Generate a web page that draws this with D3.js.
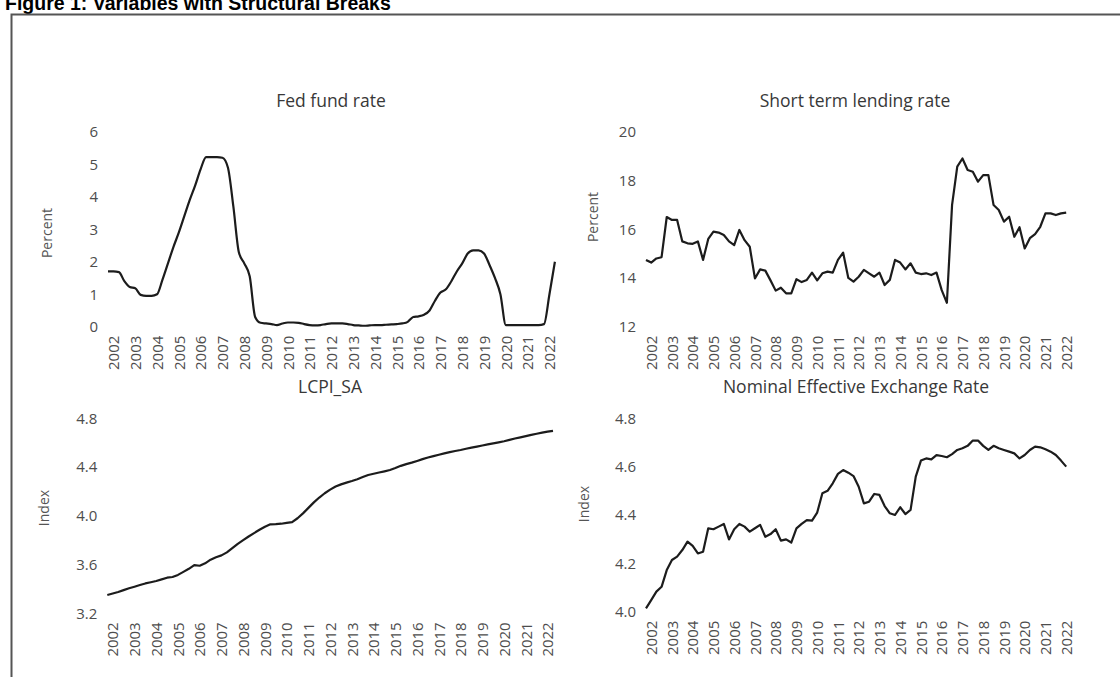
<!DOCTYPE html>
<html>
<head>
<meta charset="utf-8">
<script src="https://cdn.jsdelivr.net/npm/d3@7"></script>
<style>
  html, body { margin: 0; padding: 0; background: #fff; }
  svg { display: block; }
  .tick text { fill: #4d4d4d; font-family: "Open Sans", "Liberation Sans", sans-serif; }
  .ptitle { fill: #383838; font-family: "Open Sans", "Liberation Sans", sans-serif; }
  .atitle { fill: #555; font-family: "Open Sans", "Liberation Sans", sans-serif; }
</style>
</head>
<body>
<svg id="fig" width="1120" height="677"></svg>
<script>
// Quarterly observations, first quarter = 2002Q1
const startYear = 2002;

// Fed fund rate, percent (2002Q1 - 2022Q3)
const fedFundRate = [
  1.70, 1.70, 1.68, 1.40,
  1.22, 1.18, 0.98, 0.95,
  0.95, 1.00, 1.45, 1.95,
  2.45, 2.90, 3.40, 3.90,
  4.35, 4.85, 5.22, 5.22,
  5.22, 5.20, 4.90, 3.70,
  2.30, 1.95, 1.55, 0.30,
  0.12, 0.10, 0.08, 0.05,
  0.10, 0.13, 0.13, 0.12,
  0.08, 0.05, 0.04, 0.05,
  0.08, 0.10, 0.10, 0.10,
  0.08, 0.05, 0.04, 0.03,
  0.04, 0.05, 0.05, 0.06,
  0.07, 0.08, 0.10, 0.15,
  0.30, 0.32, 0.37, 0.50,
  0.80, 1.05, 1.15, 1.40,
  1.70, 1.95, 2.25, 2.35,
  2.35, 2.25, 1.90, 1.50,
  1.00, 0.05, 0.05, 0.05,
  0.05, 0.05, 0.05, 0.05,
  0.08, 1.00, 2.00
];

// Short term lending rate, percent (2002Q1 - 2022Q2)
const lendingRate = [
  14.74, 14.63, 14.80, 14.85,
  16.50, 16.38, 16.38, 15.50,
  15.42, 15.40, 15.50, 14.74,
  15.60, 15.90, 15.86, 15.76,
  15.50, 15.35, 15.97, 15.55,
  15.28, 13.98, 14.35, 14.30,
  13.90, 13.48, 13.60, 13.37,
  13.37, 13.95, 13.83, 13.92,
  14.22, 13.90, 14.19, 14.26,
  14.22, 14.74, 15.04, 14.00,
  13.85, 14.05, 14.33, 14.19,
  14.05, 14.22, 13.71, 13.92,
  14.74, 14.63, 14.35, 14.60,
  14.22, 14.16, 14.19, 14.12,
  14.22, 13.50, 12.98, 17.00,
  18.57, 18.90, 18.43, 18.36,
  17.95, 18.22, 18.22, 16.99,
  16.79, 16.31, 16.51, 15.69,
  16.08, 15.21, 15.63, 15.80,
  16.10, 16.65, 16.65, 16.58,
  16.65, 16.68
];

// LCPI_SA, index (2002Q1 - 2022Q3)
const lcpiSA = [
  3.350, 3.362, 3.375, 3.390,
  3.405, 3.418, 3.432, 3.445,
  3.455, 3.465, 3.478, 3.492,
  3.498, 3.515, 3.540, 3.565,
  3.595, 3.590, 3.610, 3.640,
  3.660, 3.675, 3.700, 3.735,
  3.770, 3.800, 3.830, 3.858,
  3.885, 3.910, 3.930, 3.932,
  3.935, 3.942, 3.948, 3.980,
  4.020, 4.065, 4.110, 4.150,
  4.185, 4.215, 4.240, 4.258,
  4.272, 4.285, 4.300, 4.318,
  4.335, 4.345, 4.355, 4.365,
  4.376, 4.392, 4.410, 4.424,
  4.436, 4.450, 4.465, 4.478,
  4.490, 4.501, 4.512, 4.522,
  4.532, 4.540, 4.550, 4.559,
  4.568, 4.577, 4.586, 4.594,
  4.603, 4.612, 4.623, 4.634,
  4.644, 4.654, 4.664, 4.673,
  4.682, 4.690, 4.697
];

// Nominal effective exchange rate, index (2002Q1 - 2022Q2)
const neer = [
  4.014, 4.048, 4.083, 4.103,
  4.172, 4.214, 4.228, 4.255,
  4.290, 4.272, 4.241, 4.248,
  4.345, 4.341, 4.352, 4.363,
  4.299, 4.341, 4.363, 4.352,
  4.331, 4.345, 4.359, 4.310,
  4.321, 4.341, 4.294, 4.299,
  4.286, 4.345, 4.363, 4.379,
  4.377, 4.410, 4.490, 4.500,
  4.531, 4.570, 4.586, 4.575,
  4.561, 4.517, 4.448, 4.455,
  4.487, 4.483, 4.437, 4.407,
  4.400, 4.432, 4.404, 4.421,
  4.559, 4.625, 4.634, 4.630,
  4.648, 4.644, 4.639, 4.652,
  4.669, 4.676, 4.686, 4.708,
  4.708, 4.686, 4.669, 4.686,
  4.676, 4.669, 4.662, 4.655,
  4.634, 4.648, 4.669, 4.683,
  4.680, 4.672, 4.662, 4.648,
  4.625, 4.600
];

// Axis tick values
const yearLabels = ["2002","2003","2004","2005","2006","2007","2008","2009","2010","2011",
                    "2012","2013","2014","2015","2016","2017","2018","2019","2020","2021","2022"];
const fedTicks = [0, 1, 2, 3, 4, 5, 6];
const lendingTicks = [12, 14, 16, 18, 20];
const lcpiTicks = [3.2, 3.6, 4.0, 4.4, 4.8];
const neerTicks = [4.0, 4.2, 4.4, 4.6, 4.8];

// Panel layout
const panels = [
  { title: "Fed fund rate", unit: "Percent", values: fedFundRate, ticks: fedTicks, fmt: d3.format("d"),
    curve: d3.curveMonotoneX,
    xr: [108, 554.9], yd: [0, 6], yr: [326.7, 131.7], titleX: 331, titleY: 107, unitX: 47, unitY: 233 },
  { title: "Short term lending rate", unit: "Percent", values: lendingRate, ticks: lendingTicks, fmt: d3.format("d"),
    curve: d3.curveLinear,
    xr: [646, 1066.2], yd: [12, 20], yr: [326.7, 131.7], titleX: 855, titleY: 107, unitX: 593, unitY: 217 },
  { title: "LCPI_SA", unit: "Index", values: lcpiSA, ticks: lcpiTicks, fmt: d3.format(".1f"),
    curve: d3.curveLinear,
    xr: [107.3, 553], yd: [3.2, 4.8], yr: [613.3, 418.3], titleX: 330, titleY: 393, unitX: 44, unitY: 508 },
  { title: "Nominal Effective Exchange Rate", unit: "Index", values: neer, ticks: neerTicks, fmt: d3.format(".1f"),
    curve: d3.curveLinear,
    xr: [646, 1066.2], yd: [4.0, 4.8], yr: [611.7, 418.3], titleX: 856, titleY: 393, unitX: 584, unitY: 504 }
];

const svg = d3.select("#fig");

// Figure heading and frame
svg.append("text")
  .attr("x", 5).attr("y", 10)
  .attr("font-family", "Liberation Sans, Arial, sans-serif")
  .attr("font-weight", "bold").attr("font-size", 19.5)
  .attr("fill", "#000")
  .text("Figure 1: Variables with Structural Breaks");

svg.append("path")
  .attr("d", "M11.5,677 L11.5,14.5 L1120,14.5")
  .attr("fill", "none").attr("stroke", "#555").attr("stroke-width", 2);

panels.forEach(p => {
  const n = p.values.length;
  const lastT = startYear + (n - 1) / 4;
  const x = d3.scaleLinear().domain([startYear, lastT]).range(p.xr);
  const y = d3.scaleLinear().domain(p.yd).range(p.yr);
  const g = svg.append("g");

  // Y axis labels
  g.append("g")
    .attr("transform", `translate(${p.xr[0]},0)`)
    .call(d3.axisLeft(y).tickValues(p.ticks).tickFormat(p.fmt).tickSize(0).tickPadding(10))
    .call(a => a.select(".domain").remove())
    .selectAll("text").attr("font-size", 15);

  // X axis year labels, rotated
  const yearTicks = yearLabels.map(s => +s + 0.25);
  g.append("g")
    .attr("transform", `translate(0,${p.yr[0]})`)
    .call(d3.axisBottom(x).tickValues(yearTicks).tickFormat(v => String(Math.floor(v))).tickSize(0))
    .call(a => a.select(".domain").remove())
    .selectAll("text")
      .attr("font-size", 15)
      .attr("y", 0).attr("x", -9).attr("dy", "0.35em")
      .attr("transform", "rotate(-90)")
      .style("text-anchor", "end");

  // Series line
  const line = d3.line()
    .x((d, i) => x(startYear + i / 4))
    .y(d => y(d))
    .curve(p.curve);
  g.append("path")
    .datum(p.values)
    .attr("d", line)
    .attr("fill", "none")
    .attr("stroke", "#1c1c1c")
    .attr("stroke-width", 2.2)
    .attr("stroke-linejoin", "round");

  // Panel title
  g.append("text").attr("class", "ptitle")
    .attr("x", p.titleX).attr("y", p.titleY)
    .attr("text-anchor", "middle").attr("font-size", 17.5)
    .text(p.title);

  // Unit label
  g.append("text").attr("class", "atitle")
    .attr("transform", `translate(${p.unitX},${p.unitY}) rotate(-90)`)
    .attr("text-anchor", "middle").attr("dy", "0.35em").attr("font-size", 14)
    .text(p.unit);
});
</script>
</body>
</html>
